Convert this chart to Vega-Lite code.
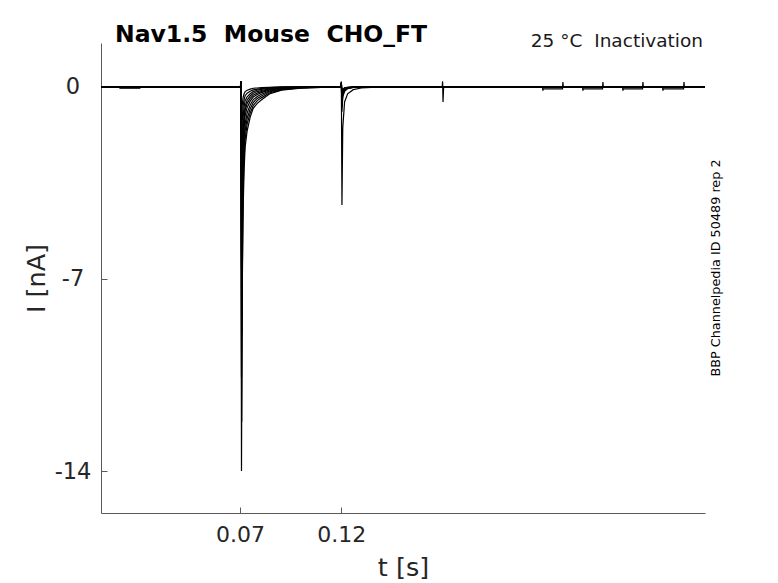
{
 "$schema": "https://vega.github.io/schema/vega-lite/v6.json",
 "width": 604, "height": 470,
 "autosize": {"type": "none"},
 "padding": {"left": 101, "top": 43, "right": 73, "bottom": 70},
 "config": {"view": {"stroke": null}, "font": "DejaVu Sans"},
 "layer": [
  {
   "data": {"values": [
    {"s":1,"t":0.0012,"i":0},{"s":1,"t":0.0105,"i":0},{"s":1,"t":0.0106,"i":-0.05},{"s":1,"t":0.0204,"i":-0.05},{"s":1,"t":0.0205,"i":0},{"s":1,"t":0.0702,"i":0},{"s":1,"t":0.0704,"i":0.2},{"s":1,"t":0.0707,"i":-14},{"s":1,"t":0.071,"i":-8},{"s":1,"t":0.0715,"i":-4.5},{"s":1,"t":0.072,"i":-3},{"s":1,"t":0.0725,"i":-2.2},{"s":1,"t":0.0735,"i":-1.6},{"s":1,"t":0.075,"i":-1.1},{"s":1,"t":0.0765,"i":-0.78},{"s":1,"t":0.0785,"i":-0.6},{"s":1,"t":0.0805,"i":-0.48},{"s":1,"t":0.0845,"i":-0.26},{"s":1,"t":0.0905,"i":-0.12},{"s":1,"t":0.1,"i":-0.05},{"s":1,"t":0.11,"i":-0.02},{"s":1,"t":0.1199,"i":0},{"s":1,"t":0.1201,"i":0.15},{"s":1,"t":0.1204,"i":-0.2},{"s":1,"t":0.1208,"i":-0.08},{"s":1,"t":0.1217,"i":-0.036},{"s":1,"t":0.1232,"i":-0.014},{"s":1,"t":0.126,"i":-0.004},{"s":1,"t":0.13,"i":0},{"s":1,"t":0.17,"i":0},{"s":1,"t":0.1702,"i":0.2},{"s":1,"t":0.1704,"i":-0.55},{"s":1,"t":0.1707,"i":0},{"s":1,"t":0.2196,"i":0},{"s":1,"t":0.2198,"i":-0.14},{"s":1,"t":0.22,"i":-0.07},{"s":1,"t":0.2295,"i":-0.07},{"s":1,"t":0.2297,"i":0.18},{"s":1,"t":0.2299,"i":0},{"s":1,"t":0.2394,"i":0},{"s":1,"t":0.2396,"i":-0.14},{"s":1,"t":0.2398,"i":-0.07},{"s":1,"t":0.2493,"i":-0.07},{"s":1,"t":0.2495,"i":0.18},{"s":1,"t":0.2497,"i":0},{"s":1,"t":0.2592,"i":0},{"s":1,"t":0.2594,"i":-0.14},{"s":1,"t":0.2596,"i":-0.07},{"s":1,"t":0.2691,"i":-0.07},{"s":1,"t":0.2693,"i":0.18},{"s":1,"t":0.2695,"i":0},{"s":1,"t":0.279,"i":0},{"s":1,"t":0.2792,"i":-0.14},{"s":1,"t":0.2794,"i":-0.07},{"s":1,"t":0.2894,"i":-0.07},{"s":1,"t":0.2896,"i":0.18},{"s":1,"t":0.2898,"i":0},{"s":1,"t":0.3,"i":0},

    {"s":2,"t":0.0012,"i":0},{"s":2,"t":0.0105,"i":0},{"s":2,"t":0.0106,"i":-0.03},{"s":2,"t":0.0204,"i":-0.03},{"s":2,"t":0.0205,"i":0},{"s":2,"t":0.0702,"i":0},{"s":2,"t":0.0704,"i":0.2},{"s":2,"t":0.0708,"i":-12.2},{"s":2,"t":0.0711,"i":-6.8},{"s":2,"t":0.0715,"i":-3.8},{"s":2,"t":0.072,"i":-2.6},{"s":2,"t":0.0725,"i":-1.9},{"s":2,"t":0.0735,"i":-1.35},{"s":2,"t":0.075,"i":-0.95},{"s":2,"t":0.0765,"i":-0.68},{"s":2,"t":0.0785,"i":-0.5},{"s":2,"t":0.0805,"i":-0.4},{"s":2,"t":0.0845,"i":-0.22},{"s":2,"t":0.0905,"i":-0.1},{"s":2,"t":0.1,"i":-0.04},{"s":2,"t":0.11,"i":-0.015},{"s":2,"t":0.1199,"i":0},{"s":2,"t":0.1201,"i":0.15},{"s":2,"t":0.1204,"i":-0.25},{"s":2,"t":0.1208,"i":-0.1},{"s":2,"t":0.1217,"i":-0.045},{"s":2,"t":0.1232,"i":-0.018},{"s":2,"t":0.126,"i":-0.005},{"s":2,"t":0.13,"i":0},{"s":2,"t":0.3,"i":0},

    {"s":3,"t":0.0012,"i":0},{"s":3,"t":0.0702,"i":0},{"s":3,"t":0.0704,"i":0.2},{"s":3,"t":0.0707,"i":-10.6},{"s":3,"t":0.071,"i":-5.8},{"s":3,"t":0.0715,"i":-3.2},{"s":3,"t":0.072,"i":-2.2},{"s":3,"t":0.0725,"i":-1.6},{"s":3,"t":0.0735,"i":-1.15},{"s":3,"t":0.075,"i":-0.8},{"s":3,"t":0.0765,"i":-0.57},{"s":3,"t":0.0785,"i":-0.42},{"s":3,"t":0.0805,"i":-0.33},{"s":3,"t":0.0845,"i":-0.18},{"s":3,"t":0.0905,"i":-0.08},{"s":3,"t":0.1,"i":-0.03},{"s":3,"t":0.11,"i":-0.01},{"s":3,"t":0.1199,"i":0},{"s":3,"t":0.1201,"i":0.15},{"s":3,"t":0.1204,"i":-0.3},{"s":3,"t":0.1208,"i":-0.12},{"s":3,"t":0.1217,"i":-0.054},{"s":3,"t":0.1232,"i":-0.021},{"s":3,"t":0.126,"i":-0.006},{"s":3,"t":0.13,"i":0},{"s":3,"t":0.3,"i":0},

    {"s":4,"t":0.0012,"i":0},{"s":4,"t":0.0702,"i":0},{"s":4,"t":0.0704,"i":0.2},{"s":4,"t":0.0709,"i":-9.0},{"s":4,"t":0.0712,"i":-4.8},{"s":4,"t":0.0716,"i":-2.7},{"s":4,"t":0.0721,"i":-1.8},{"s":4,"t":0.0726,"i":-1.3},{"s":4,"t":0.0735,"i":-0.95},{"s":4,"t":0.075,"i":-0.66},{"s":4,"t":0.0765,"i":-0.47},{"s":4,"t":0.0785,"i":-0.35},{"s":4,"t":0.0805,"i":-0.27},{"s":4,"t":0.0845,"i":-0.15},{"s":4,"t":0.0905,"i":-0.07},{"s":4,"t":0.1,"i":-0.03},{"s":4,"t":0.11,"i":-0.01},{"s":4,"t":0.1199,"i":0},{"s":4,"t":0.1201,"i":0.15},{"s":4,"t":0.1204,"i":-0.35},{"s":4,"t":0.1208,"i":-0.14},{"s":4,"t":0.1217,"i":-0.063},{"s":4,"t":0.1232,"i":-0.025},{"s":4,"t":0.126,"i":-0.007},{"s":4,"t":0.13,"i":0},{"s":4,"t":0.3,"i":0},

    {"s":5,"t":0.0012,"i":0},{"s":5,"t":0.0702,"i":0},{"s":5,"t":0.0704,"i":0.2},{"s":5,"t":0.0708,"i":-7.8},{"s":5,"t":0.0711,"i":-4.0},{"s":5,"t":0.0715,"i":-2.2},{"s":5,"t":0.072,"i":-1.5},{"s":5,"t":0.0725,"i":-1.05},{"s":5,"t":0.0735,"i":-0.75},{"s":5,"t":0.075,"i":-0.52},{"s":5,"t":0.0765,"i":-0.37},{"s":5,"t":0.0785,"i":-0.28},{"s":5,"t":0.0805,"i":-0.21},{"s":5,"t":0.0845,"i":-0.12},{"s":5,"t":0.0905,"i":-0.05},{"s":5,"t":0.1,"i":-0.02},{"s":5,"t":0.11,"i":0},{"s":5,"t":0.1199,"i":0},{"s":5,"t":0.1201,"i":0.15},{"s":5,"t":0.1204,"i":-0.45},{"s":5,"t":0.1208,"i":-0.18},{"s":5,"t":0.1217,"i":-0.081},{"s":5,"t":0.1232,"i":-0.032},{"s":5,"t":0.126,"i":-0.009},{"s":5,"t":0.13,"i":0},{"s":5,"t":0.3,"i":0},

    {"s":6,"t":0.0012,"i":0},{"s":6,"t":0.0702,"i":0},{"s":6,"t":0.0704,"i":0.2},{"s":6,"t":0.0707,"i":-6.6},{"s":6,"t":0.071,"i":-3.3},{"s":6,"t":0.0715,"i":-1.8},{"s":6,"t":0.072,"i":-1.2},{"s":6,"t":0.0725,"i":-0.85},{"s":6,"t":0.0735,"i":-0.6},{"s":6,"t":0.075,"i":-0.42},{"s":6,"t":0.0765,"i":-0.3},{"s":6,"t":0.0785,"i":-0.22},{"s":6,"t":0.0805,"i":-0.17},{"s":6,"t":0.0845,"i":-0.09},{"s":6,"t":0.0905,"i":-0.04},{"s":6,"t":0.1,"i":-0.015},{"s":6,"t":0.11,"i":0},{"s":6,"t":0.1199,"i":0},{"s":6,"t":0.1201,"i":0.15},{"s":6,"t":0.1204,"i":-0.55},{"s":6,"t":0.1208,"i":-0.22},{"s":6,"t":0.1217,"i":-0.099},{"s":6,"t":0.1232,"i":-0.039},{"s":6,"t":0.126,"i":-0.011},{"s":6,"t":0.13,"i":0},{"s":6,"t":0.3,"i":0},

    {"s":7,"t":0.0012,"i":0},{"s":7,"t":0.0702,"i":0},{"s":7,"t":0.0704,"i":0.2},{"s":7,"t":0.0709,"i":-5.4},{"s":7,"t":0.0712,"i":-2.6},{"s":7,"t":0.0716,"i":-1.4},{"s":7,"t":0.0721,"i":-0.95},{"s":7,"t":0.0726,"i":-0.68},{"s":7,"t":0.0735,"i":-0.48},{"s":7,"t":0.075,"i":-0.33},{"s":7,"t":0.0765,"i":-0.23},{"s":7,"t":0.0785,"i":-0.17},{"s":7,"t":0.0805,"i":-0.13},{"s":7,"t":0.0845,"i":-0.07},{"s":7,"t":0.0905,"i":-0.03},{"s":7,"t":0.1,"i":-0.01},{"s":7,"t":0.11,"i":0},{"s":7,"t":0.1199,"i":0},{"s":7,"t":0.1201,"i":0.15},{"s":7,"t":0.1204,"i":-0.65},{"s":7,"t":0.1208,"i":-0.26},{"s":7,"t":0.1217,"i":-0.117},{"s":7,"t":0.1232,"i":-0.046},{"s":7,"t":0.126,"i":-0.013},{"s":7,"t":0.13,"i":0},{"s":7,"t":0.3,"i":0},

    {"s":8,"t":0.0012,"i":0},{"s":8,"t":0.0702,"i":0},{"s":8,"t":0.0704,"i":0.2},{"s":8,"t":0.0708,"i":-4.2},{"s":8,"t":0.0711,"i":-2.0},{"s":8,"t":0.0715,"i":-1.1},{"s":8,"t":0.072,"i":-0.72},{"s":8,"t":0.0725,"i":-0.5},{"s":8,"t":0.0735,"i":-0.36},{"s":8,"t":0.075,"i":-0.25},{"s":8,"t":0.0765,"i":-0.17},{"s":8,"t":0.0785,"i":-0.12},{"s":8,"t":0.0805,"i":-0.09},{"s":8,"t":0.0845,"i":-0.05},{"s":8,"t":0.0905,"i":-0.02},{"s":8,"t":0.1,"i":0},{"s":8,"t":0.1199,"i":0},{"s":8,"t":0.1201,"i":0.15},{"s":8,"t":0.1204,"i":-0.75},{"s":8,"t":0.1208,"i":-0.3},{"s":8,"t":0.1217,"i":-0.135},{"s":8,"t":0.1232,"i":-0.053},{"s":8,"t":0.126,"i":-0.015},{"s":8,"t":0.13,"i":0},{"s":8,"t":0.3,"i":0},

    {"s":9,"t":0.0012,"i":0},{"s":9,"t":0.0702,"i":0},{"s":9,"t":0.0704,"i":0.2},{"s":9,"t":0.0707,"i":-2.8},{"s":9,"t":0.071,"i":-1.3},{"s":9,"t":0.0715,"i":-0.7},{"s":9,"t":0.072,"i":-0.46},{"s":9,"t":0.0725,"i":-0.32},{"s":9,"t":0.0735,"i":-0.23},{"s":9,"t":0.075,"i":-0.16},{"s":9,"t":0.0765,"i":-0.11},{"s":9,"t":0.0785,"i":-0.08},{"s":9,"t":0.0805,"i":-0.06},{"s":9,"t":0.0845,"i":-0.03},{"s":9,"t":0.0905,"i":-0.01},{"s":9,"t":0.1,"i":0},{"s":9,"t":0.1199,"i":0},{"s":9,"t":0.1201,"i":0.15},{"s":9,"t":0.1204,"i":-0.9},{"s":9,"t":0.1208,"i":-0.36},{"s":9,"t":0.1217,"i":-0.162},{"s":9,"t":0.1232,"i":-0.063},{"s":9,"t":0.126,"i":-0.018},{"s":9,"t":0.13,"i":0},{"s":9,"t":0.3,"i":0},

    {"s":10,"t":0.0012,"i":0},{"s":10,"t":0.0702,"i":0},{"s":10,"t":0.0704,"i":0.2},{"s":10,"t":0.0707,"i":-1.5},{"s":10,"t":0.071,"i":-0.7},{"s":10,"t":0.0715,"i":-0.38},{"s":10,"t":0.072,"i":-0.25},{"s":10,"t":0.0725,"i":-0.17},{"s":10,"t":0.0735,"i":-0.12},{"s":10,"t":0.075,"i":-0.08},{"s":10,"t":0.0765,"i":-0.05},{"s":10,"t":0.0785,"i":-0.04},{"s":10,"t":0.0805,"i":-0.03},{"s":10,"t":0.0845,"i":-0.015},{"s":10,"t":0.0905,"i":0},{"s":10,"t":0.1199,"i":0},{"s":10,"t":0.1201,"i":0.2},{"s":10,"t":0.1204,"i":-4.3},{"s":10,"t":0.1208,"i":-1.5},{"s":10,"t":0.1217,"i":-0.55},{"s":10,"t":0.1232,"i":-0.25},{"s":10,"t":0.126,"i":-0.1},{"s":10,"t":0.13,"i":-0.04},{"s":10,"t":0.14,"i":0},{"s":10,"t":0.3,"i":0}
   ]},
   "mark": {"type": "line", "color": "black", "strokeWidth": 1.2, "clip": true},
   "encoding": {
    "x": {"field": "t", "type": "quantitative",
          "scale": {"domain": [0.0012, 0.3], "nice": false, "zero": false},
          "axis": {"values": [0.07, 0.12], "format": ".2f", "title": "t [s]", "grid": false,
                   "tickSize": -6, "labelPadding": 17.4, "labelFlush": false,
                   "labelFontSize": 22, "labelColor": "#262626", "labelFont": "DejaVu Sans",
                   "domainColor": "#5a5a5a", "tickColor": "#5a5a5a",
                   "titleFontSize": 25.5, "titleFontWeight": "normal", "titleColor": "#262626",
                   "titleFont": "DejaVu Sans", "titleY": 42}},
    "y": {"field": "i", "type": "quantitative",
          "scale": {"domain": [-15.53, 1.6], "nice": false, "zero": false},
          "axis": {"values": [-14, -7, 0], "labelExpr": "'' + datum.value", "title": "I [nA]", "grid": false,
                   "tickSize": -6, "labelPadding": 34.5, "labelAlign": "center", "labelBaseline": "middle",
                   "labelFontSize": 22.5, "labelColor": "#262626", "labelFont": "DejaVu Sans",
                   "domainColor": "#5a5a5a", "tickColor": "#5a5a5a",
                   "titleFontSize": 25.5, "titleFontWeight": "normal", "titleColor": "#262626",
                   "titleFont": "DejaVu Sans", "titleX": -52}},
    "detail": {"field": "s", "type": "nominal"}
   }
  },
  {
   "data": {"values": [{}]},
   "mark": {"type": "text", "text": "Nav1.5\u00a0\u00a0Mouse\u00a0\u00a0CHO_FT", "font": "DejaVu Sans", "fontWeight": "bold",
            "fontSize": 23.5, "align": "left", "baseline": "alphabetic", "dx": 14, "dy": -1, "color": "black"},
   "encoding": {"x": {"datum": 0.0012, "type": "quantitative"}, "y": {"datum": 1.6, "type": "quantitative"}}
  },
  {
   "data": {"values": [{}]},
   "mark": {"type": "text", "text": "25 °C\u00a0\u00a0Inactivation", "font": "DejaVu Sans",
            "fontSize": 18.5, "align": "right", "baseline": "alphabetic", "dx": -2, "dy": 4, "color": "#1a1a1a"},
   "encoding": {"x": {"datum": 0.3, "type": "quantitative"}, "y": {"datum": 1.6, "type": "quantitative"}}
  },
  {
   "data": {"values": [{}]},
   "mark": {"type": "text", "text": "BBP Channelpedia ID 50489 rep 2", "font": "DejaVu Sans",
            "fontSize": 12.8, "angle": 270, "align": "center", "baseline": "middle", "dy": 11, "color": "black"},
   "encoding": {"x": {"datum": 0.3, "type": "quantitative"}, "y": {"datum": -6.6, "type": "quantitative"}}
  }
 ]
}
